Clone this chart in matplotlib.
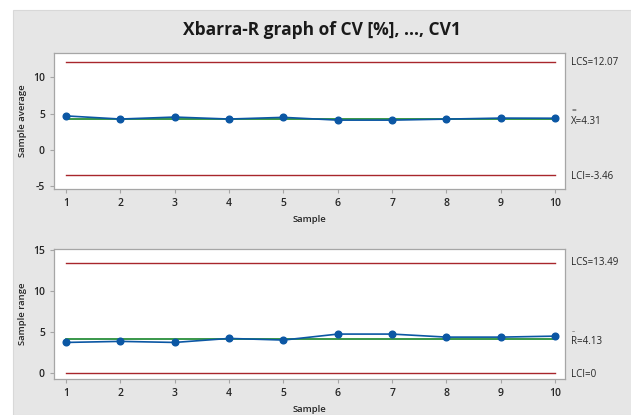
import matplotlib
matplotlib.use("Agg")
import matplotlib.pyplot as plt
from matplotlib.patches import Rectangle
from matplotlib.transforms import blended_transform_factory

plt.rcParams["font.family"] = ["Open Sans", "DejaVu Sans"]
plt.rcParams["axes.unicode_minus"] = False

samples = [1, 2, 3, 4, 5, 6, 7, 8, 9, 10]
xbar_values = [4.68, 4.25, 4.52, 4.25, 4.48, 4.10, 4.10, 4.24, 4.38, 4.36]
range_values = [3.76, 3.89, 3.76, 4.25, 4.05, 4.78, 4.78, 4.41, 4.41, 4.53]

xbar_limits = {"ucl": 12.07, "center": 4.31, "lcl": -3.46}
range_limits = {"ucl": 13.49, "center": 4.13, "lcl": 0.0}

title = "Xbarra-R graph of CV [%], ..., CV1"

BLUE = "#0B57A4"
RED = "#A8262C"
GREEN = "#17852A"
SPINE = "#A6A6A6"
TEXT = "#262626"

fig = plt.figure(figsize=(6.31, 4.15), dpi=100)
bg = Rectangle((13 / 631, 0), 1, 1 - 10 / 415, transform=fig.transFigure,
               facecolor="#E6E6E6", edgecolor="#D8D8D8", linewidth=0.8, zorder=-10)
fig.patches.append(bg)

fig.text(0.51, 0.928, title, ha="center", va="center", fontsize=12.5,
         fontweight="bold", color="#1A1A1A")

ax1 = fig.add_axes([54 / 631, 1 - 189 / 415, 511 / 631, 136 / 415])
ax2 = fig.add_axes([54 / 631, 1 - 379 / 415, 511 / 631, 130 / 415])


def draw_chart(ax, values, limits, ylabel, yticks, ylim, center_name, bar_char, bar_size,
               lcl_text, ucl_text):
    ax.plot([samples[0], samples[-1]], [limits["ucl"]] * 2, color=RED, lw=1.0)
    ax.plot([samples[0], samples[-1]], [limits["lcl"]] * 2, color=RED, lw=1.0)
    ax.plot([samples[0], samples[-1]], [limits["center"]] * 2, color=GREEN, lw=1.2)
    ax.plot(samples, values, color=BLUE, lw=1.2, marker="o", markersize=4.8)

    ax.set_xlim(0.78, 10.18)
    ax.set_ylim(*ylim)
    ax.set_xticks(samples)
    ax.set_yticks(yticks)
    ax.set_facecolor("white")
    for s in ax.spines.values():
        s.set_color(SPINE)
        s.set_linewidth(0.9)
    ax.tick_params(axis="both", colors=SPINE, labelcolor=TEXT, labelsize=7.5, length=3, width=0.8)
    for lab in ax.get_xticklabels() + ax.get_yticklabels():
        lab.set_fontweight("semibold")
    ax.set_xlabel("Sample", fontsize=6.8, fontweight="semibold", color=TEXT, labelpad=4)
    ax.set_ylabel(ylabel, fontsize=6.8, fontweight="semibold", color=TEXT, labelpad=4)

    trans = blended_transform_factory(ax.transAxes, ax.transData)
    ax.annotate(ucl_text, (1.012, limits["ucl"]), xycoords=trans, ha="left", va="center",
                fontsize=7, color=TEXT, annotation_clip=False)
    ax.annotate(lcl_text, (1.012, limits["lcl"]), xycoords=trans, ha="left", va="center",
                fontsize=7, color=TEXT, annotation_clip=False, xytext=(0, -1.2),
                textcoords="offset points")
    ax.annotate(center_name + "=%.2f" % limits["center"], (1.012, limits["center"]), xycoords=trans,
                ha="left", va="center", fontsize=7, color=TEXT, annotation_clip=False,
                xytext=(0, -1.8), textcoords="offset points")
    ax.annotate(bar_char, (1.012, limits["center"]), xycoords=trans, ha="left", va="center",
                fontsize=bar_size, color=TEXT, annotation_clip=False, xytext=(0.4, 5.4),
                textcoords="offset points")


draw_chart(ax1, xbar_values, xbar_limits, "Sample average", [-5, 0, 5, 10], (-5.36, 13.32),
           "X", "=", 6, "LCI=-3.46", "LCS=12.07")
draw_chart(ax2, range_values, range_limits, "Sample range", [0, 5, 10, 15], (-0.70, 15.16),
           "R", "–", 4.5, "LCI=0", "LCS=13.49")

fig.savefig("out.png", dpi=100)
